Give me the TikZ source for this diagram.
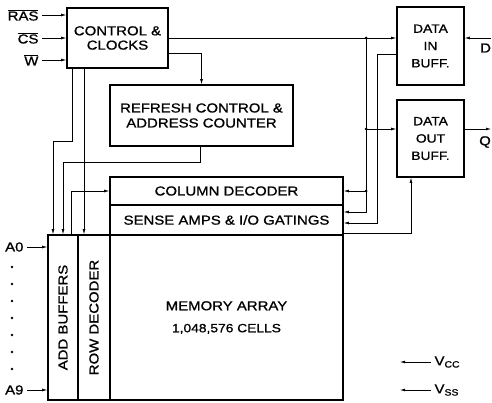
\documentclass[tikz,border=0pt]{standalone}
\usepackage{fontspec}
\setmainfont{Liberation Sans}[FakeStretch=1.15,FakeBold=1]
\usetikzlibrary{arrows.meta}
\newcommand\ovl[1]{$\overline{\hbox{#1}}$}

\begin{document}
\begin{tikzpicture}[x=1pt,y=-1pt,font=\fontsize{13}{15}\selectfont,
      kotak/.style={draw,line width=1.6pt,inner sep=0pt,align=center},
      garis/.style={line width=0.6pt},
      panah/.style={garis,-{Latex[length=5pt,width=2.8pt]}},
      titik/.style={fill,circle,inner sep=0pt,minimum size=3pt}]
    \useasboundingbox (0,0) rectangle (492,403);
    % Blok-blok utama
    \node[kotak,minimum width=101pt,minimum height=60pt,font=\fontsize{13}{14.3}\selectfont]
      (cc) at (117.5,38) {CONTROL \&\\CLOCKS};
    \node[kotak,minimum width=183pt,minimum height=61pt]
      (refresh) at (201.5,115.5) {REFRESH CONTROL \&\\ADDRESS COUNTER};
    \node[kotak,minimum width=67pt,minimum height=78pt,font=\fontsize{12}{17.3}\selectfont]
      (din) at (430.5,46) {DATA\\IN\\BUFF.};
    \node[kotak,minimum width=67pt,minimum height=77pt,font=\fontsize{12}{17.3}\selectfont]
      (dout) at (430.5,138.5) {DATA\\OUT\\BUFF.};
    \node[kotak,minimum width=233pt,minimum height=28pt] (coldec) at (226.5,191) {COLUMN DECODER};
    \node[kotak,minimum width=233pt,minimum height=30pt] (sense) at (226.5,220)
      {SENSE AMPS \& I/O GATINGS};
    \node[kotak,minimum width=233pt,minimum height=165pt,font=\fontsize{13}{22}\selectfont]
      (mem) at (226.5,317.5) {MEMORY ARRAY\\{\fontsize{12}{22}\selectfont 1,048,576 CELLS}};
    \node[kotak,minimum width=30pt,minimum height=165pt] (addbuf) at (63,317.5)
      {\rotatebox{90}{ADD BUFFERS}};
    \node[kotak,minimum width=32pt,minimum height=165pt] (rowdec) at (94,317.5)
      {\rotatebox{90}{ROW DECODER}};

    % Masukan kendali
    \node[anchor=east] (ras) at (42,15) {\ovl{RAS}};
    \node[anchor=east] (cs) at (42,38) {\ovl{CS}};
    \node[anchor=east] (w) at (42,60) {\ovl{W}};
    \foreach \n in {ras,cs,w}
      \draw[panah] (\n.east) -- (\n.east -| cc.west);

    % Masukan alamat
    \node[anchor=east] (a0) at (27,247) {A0};
    \node[anchor=east] (a9) at (27,390) {A9};
    \draw[panah] (a0.east) -- (a0.east -| addbuf.west);
    \draw[panah] (a9.east) -- (a9.east -| addbuf.west);
    \foreach \y in {267,284,301,318,335,352,369}
      \fill (12,\y) circle (1.3pt);

    % Jalur kendali dari CONTROL & CLOCKS
    \coordinate (bendA) at (53,141);
    \coordinate (bendB) at (63,162);
    \coordinate (bendC) at (71,190);
    \coordinate (rclk) at ([xshift=-33.5pt]cc.south);
    \draw[panah] ([yshift=-15pt]cc.east) -| (refresh.north);
    \draw[panah] ([xshift=-45.5pt]cc.south) |- (bendA) -- (bendA |- addbuf.north);
    \draw[panah] (rclk) -- (rclk |- rowdec.north);
    \draw[panah] ([xshift=-1.5pt]refresh.south) |- (bendB) -- (bendB |- addbuf.north);
    \draw[panah] (addbuf.north -| bendC) |- (coldec.west);

    % Bus data di sebelah kanan
    \coordinate (ja) at (366,38);
    \coordinate (jb) at (366,129);
    \coordinate (jc) at (366,191);
    \coordinate (kb) at (377,223);
    \draw[panah] (cc.east) -- (cc.east -| din.west);
    \draw[panah] (ja) |- ([yshift=8pt]sense.east);
    \draw[panah] (jb) -- (jb -| dout.west);
    \draw[panah] (jc) -- (coldec.east);
    \draw[panah] ([yshift=-8pt]din.west) -| (kb) -- (kb -| sense.east);
    \draw[panah] ([yshift=-13pt]sense.east) -| ([xshift=-19.5pt]dout.south);
    \foreach \j in {ja,jb,jc}
      \node[titik] at (\j) {};

    % Keluaran dan catu daya
    \node[anchor=west,inner sep=0pt] (d) at (480,48) {D};
    \node[anchor=west,inner sep=0pt] (q) at (479,142) {Q};
    \draw[panah] (d.north east |- din.east) ++(0,-8) -- ([yshift=8pt]din.east);
    \draw[panah] ([yshift=9.5pt]dout.east) -- ([yshift=9.5pt]dout.east -| q.north east);
    \node[anchor=west] (vcc) at (431,362) {V\textsubscript{CC}};
    \node[anchor=west] (vss) at (431,390) {V\textsubscript{SS}};
    \draw[panah] (vcc.west) -- ([xshift=-31pt]vcc.west);
    \draw[panah] (vss.west) -- ([xshift=-31pt]vss.west);
  \end{tikzpicture}
\end{document}
